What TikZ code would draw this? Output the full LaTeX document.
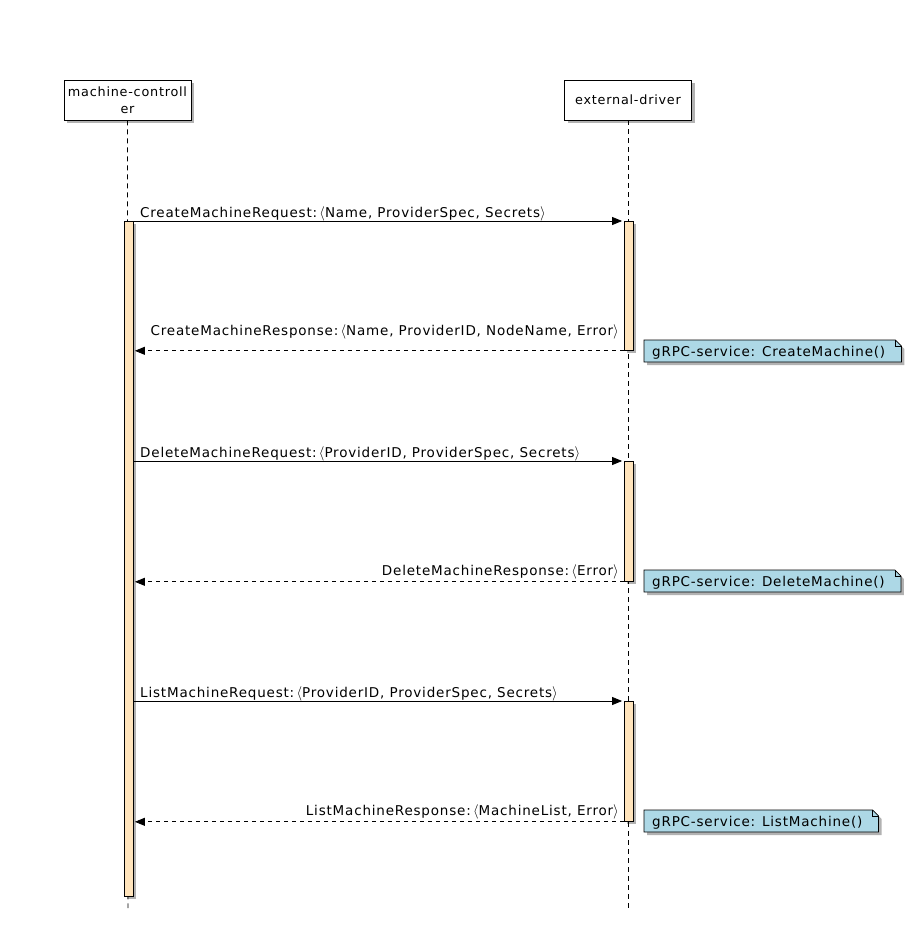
\documentclass[tikz,border=0pt]{standalone}
\usepackage{fontspec}
\setmainfont{DejaVu Sans}[LetterSpace=6]
\usetikzlibrary{shadows,arrows.meta,calc}
\definecolor{actbar}{RGB}{255,228,188}
\definecolor{notefill}{RGB}{173,216,230}
\pgfdeclarelayer{bg}
\pgfsetlayers{bg,main}
\newcommand\mynotebox[3]{%
  \begin{pgfonlayer}{bg}
  \draw[notebox] ([xshift=-8pt]#1.west |- {0,#2}) -- ([xshift=10pt]#1.east |- {0,#2})
     -- ([xshift=16pt]#1.east |- {0,#2+6}) -- ([xshift=16pt]#1.east |- {0,#3})
     -- ([xshift=-8pt]#1.west |- {0,#3}) -- cycle;
  \draw[line width=0.7pt] ([xshift=10pt]#1.east |- {0,#2}) -- ([xshift=10pt]#1.east |- {0,#2+6})
     -- ([xshift=16pt]#1.east |- {0,#2+6});
  \end{pgfonlayer}}
\newcommand\lA{\,$\langle$}
\newcommand\rA{$\rangle$}
\begin{document}
\begin{tikzpicture}[x=1pt,y=-1pt,
  font=\fontsize{13.5}{17}\selectfont,
  shadowed/.style={drop shadow={shadow xshift=3pt,shadow yshift=-3pt,opacity=0.3,fill=black}},
  actor/.style={draw,fill=white,line width=0.8pt,minimum width=127pt,minimum height=40pt,
    inner sep=0pt,align=center,shadowed,font=\fontsize{12.8}{17}\selectfont},
  lifeline/.style={line width=0.8pt,dash pattern=on 5pt off 4pt},
  actbox/.style={draw,fill=actbar,line width=0.8pt,minimum width=9pt,inner sep=0pt,anchor=north,shadowed},
  msg/.style={line width=0.8pt,-{Triangle[length=10pt,width=8pt]},shorten >=1.5pt},
  ret/.style={msg,dash pattern=on 4pt off 4pt},
  lbl/.style={inner sep=0pt,anchor=base west},
  rlbl/.style={inner sep=0pt,anchor=base east},
  notetext/.style={inner sep=0pt,anchor=base west},
  notebox/.style={fill=notefill,line width=0.7pt,shadowed}]
\useasboundingbox (0,0) rectangle (923,944);
% actors
\node[actor] (mc) at (127.5,100) {machine-controll\\er};
\node[actor] (ed) at (628,100) {external-driver};
\coordinate (mcend) at (128,908);
\coordinate (edend) at (628,908);
\draw[lifeline] (mc.south) -- (mcend);
\draw[lifeline] (ed.south) -- (edend);
% activation bars
\node[actbox,minimum height=675pt] (lb) at (128.5,221) {};
\node[actbox,minimum height=129pt] (rb1) at (628.5,221) {};
\node[actbox,minimum height=120pt] (rb2) at (628.5,461) {};
\node[actbox,minimum height=120pt] (rb3) at (628.5,701) {};
% create
\draw[msg] (lb.east |- rb1.north) -- (rb1.north west);
\node[lbl] (t1) at (140,217) {CreateMachineRequest:\lA Name, ProviderSpec, Secrets\rA};
\draw[ret] (rb1.south west) -- (lb.east |- rb1.south);
\node[rlbl] (t2) at (619,335) {CreateMachineResponse:\lA Name, ProviderID, NodeName, Error\rA};
% delete
\draw[msg] (lb.east |- rb2.north) -- (rb2.north west);
\node[lbl] (t3) at (140,457) {DeleteMachineRequest:\lA ProviderID, ProviderSpec, Secrets\rA};
\draw[ret] (rb2.south west) -- (lb.east |- rb2.south);
\node[rlbl] (t4) at (619,575) {DeleteMachineResponse:\lA Error\rA};
% list
\draw[msg] (lb.east |- rb3.north) -- (rb3.north west);
\node[lbl] (t5) at (140,697) {ListMachineRequest:\lA ProviderID, ProviderSpec, Secrets\rA};
\draw[ret] (rb3.south west) -- (lb.east |- rb3.south);
\node[rlbl] (t6) at (619,815) {ListMachineResponse:\lA MachineList, Error\rA};
% notes
\node[notetext] (n1) at (652,356) {gRPC-service: CreateMachine()};
\mynotebox{n1}{340}{362}
\node[notetext] (n2) at (652,586) {gRPC-service: DeleteMachine()};
\mynotebox{n2}{570}{592}
\node[notetext] (n3) at (652,826) {gRPC-service: ListMachine()};
\mynotebox{n3}{810}{832}
\end{tikzpicture}
\end{document}
